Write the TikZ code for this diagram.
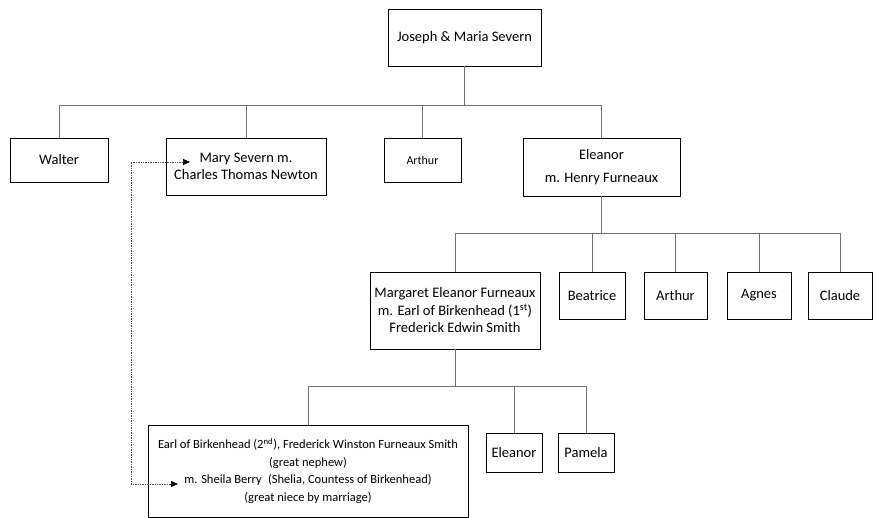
\documentclass[tikz,border=0pt]{standalone}
\usepackage{fontspec}
\setmainfont{Carlito}
\usetikzlibrary{positioning}
\usetikzlibrary{arrows.meta}
\tikzset{>=stealth}
\tikzset{
	% person box
	person/.style={draw=black,line width=0.9pt,inner sep=0pt,outer sep=0pt,align=center,
		font=\fontsize{14.5}{17.5}\selectfont},
	% line of descent
	link/.style={draw=black!55,line width=0.8pt},
	% relation by marriage
	relation/.style={draw=black!70,line width=0.7pt,densely dotted,
		{Triangle[length=7pt,width=6pt,fill=black,color=black]}-{Triangle[length=7pt,width=6pt,fill=black,color=black]}},
}
\begin{document}
\begin{tikzpicture}[x=1pt,y=-1pt]
\useasboundingbox[fill=white] (0,0) rectangle (879,518);
% the parents
\node[person,minimum width=153pt,minimum height=57pt] (joseph) at (464.5,37.5) {Joseph \& Maria Severn};
% their children
\node[person,minimum width=98pt,minimum height=44pt] (walter) at (59,160) {Walter};
\node[person,minimum width=160pt,minimum height=57pt] (mary) at (246,166.5) {Mary Severn m.\\Charles Thomas Newton};
\node[person,minimum width=77pt,minimum height=44pt,font=\fontsize{12}{14}\selectfont] (arthurA) at (422.5,160) {Arthur};
\node[person,minimum width=157pt,minimum height=58pt] (eleanor) at (601.5,167) {Eleanor\\[6pt]m. Henry Furneaux};
% the grandchildren
\node[person,minimum width=170pt,minimum height=77pt] (margaret) at (455,310.5) {Margaret Eleanor Furneaux\\m. Earl of Birkenhead (1\textsuperscript{st})\\Frederick Edwin Smith};
\node[person,minimum width=66pt,minimum height=47pt] (beatrice) at (592,295.5) {Beatrice};
\node[person,minimum width=63pt,minimum height=47pt] (arthurB) at (675.5,295.5) {Arthur};
\node[person,minimum width=64pt,minimum height=47pt] (agnes) at (759,295.5) {Agnes};
\node[person,minimum width=64pt,minimum height=47pt] (claude) at (840,295.5) {Claude};
% the great grandchildren
\node[person,minimum width=320pt,minimum height=92pt,font=\fontsize{12.5}{17.6}\selectfont] (earl) at (308,471) {Earl of Birkenhead (2\textsuperscript{nd}), Frederick Winston Furneaux Smith\\(great nephew)\\m. Sheila Berry\enspace(Shelia, Countess of Birkenhead)\\(great niece by marriage)};
\node[person,minimum width=56pt,minimum height=39pt] (eleanorB) at (514,452.5) {Eleanor};
\node[person,minimum width=56pt,minimum height=39pt] (pamela) at (586,452.5) {Pamela};
% the bars
\coordinate (barA) at (464.5,105);
\coordinate (barB) at (601.5,233);
\coordinate (barC) at (455,386);
\draw[link] (joseph.south) -- (barA);
\draw[link] (walter.north) |- (eleanor.north |- barA) -- (eleanor.north);
\foreach \n in {mary,arthurA}
  \draw[link] (\n.north) -- (\n.north |- barA);
\draw[link] (eleanor.south) -- (barB);
\draw[link] (margaret.north) |- (claude.north |- barB) -- (claude.north);
\foreach \n in {beatrice,arthurB,agnes}
  \draw[link] (\n.north) -- (\n.north |- barB);
\draw[link] (margaret.south) -- (barC);
\draw[link] (earl.north) |- (pamela.north |- barC) -- (pamela.north);
\draw[link] (eleanorB.north) -- (eleanorB.north |- barC);
% the marriage link
\coordinate (earlin) at (178,484);
\coordinate (bend) at (131,162);
\coordinate (maryin) at (190,162);
\draw[relation] (earlin) -| (bend) -- (maryin);
\end{tikzpicture}
\end{document}
